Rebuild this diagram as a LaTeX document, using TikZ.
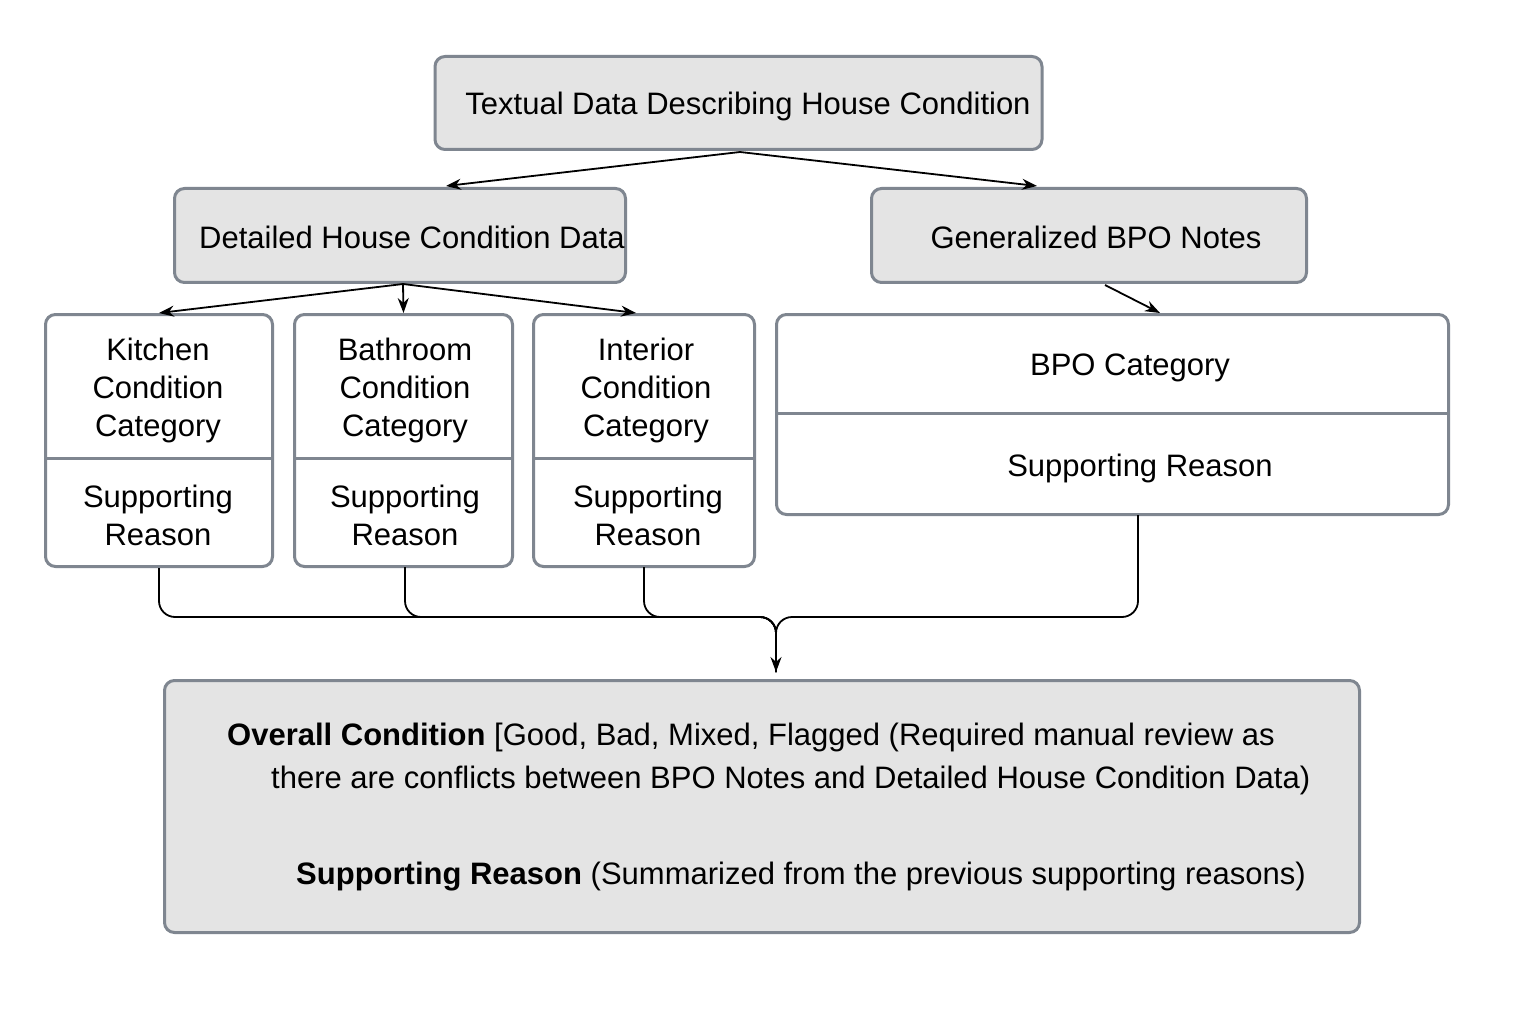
\documentclass[tikz,border=0pt]{standalone}
\usepackage{fontspec}
\setmainfont{Liberation Sans}
\usetikzlibrary{arrows.meta,calc}
\definecolor{bordc}{HTML}{7F8690}
\definecolor{boxg}{HTML}{E4E4E4}
\begin{document}
\begin{tikzpicture}[x=1pt,y=-1pt]
\tikzset{
  gbox/.style={draw=bordc, line width=3pt, fill=boxg, rounded corners=10pt, inner sep=0pt},
  wbox/.style={draw=bordc, line width=3pt, fill=white, rounded corners=10pt, inner sep=0pt},
  lbl/.style={font=\fontsize{31}{38}\selectfont, text=black, align=center, inner sep=0pt},
  divl/.style={draw=bordc, line width=3pt},
  arr/.style={-{Stealth[length=15pt,width=11pt]}, line width=1.8pt, draw=black},
  conn/.style={line width=1.8pt, draw=black, rounded corners=16pt}
}
\useasboundingbox (0,0) rectangle (1536,1024);
\fill[white] (0,0) rectangle (1536,1024);

% top level
\node[gbox, minimum width=607pt, minimum height=93pt] (top) at (738.5,103) {};
\node[lbl] (toptxt) at (748,106) {Textual Data Describing House Condition};

% second level
\node[gbox, minimum width=451pt, minimum height=94pt] (det) at (400,235.5) {};
\node[lbl] (dettxt) at (412,237) {Detailed House Condition Data};
\node[gbox, minimum width=435pt, minimum height=94pt] (gen) at (1089,235.5) {};
\node[lbl] (gentxt) at (1096,237) {Generalized BPO Notes};

% category boxes
\node[wbox, minimum width=227pt, minimum height=252pt] (kit) at (159,440.5) {};
\draw[divl] (kit.west |- 0,458) -- (kit.east |- 0,458);
\node[lbl] (kitc) at (158,390) {Kitchen\\Condition\\Category};
\node[lbl] (kits) at (158,515) {Supporting\\Reason};

\node[wbox, minimum width=218pt, minimum height=252pt] (bat) at (403.5,440.5) {};
\draw[divl] (bat.west |- 0,458) -- (bat.east |- 0,458);
\node[lbl] (batc) at (405,390) {Bathroom\\Condition\\Category};
\node[lbl] (bats) at (405,515) {Supporting\\Reason};

\node[wbox, minimum width=221pt, minimum height=252pt] (int) at (644,440.5) {};
\draw[divl] (int.west |- 0,458) -- (int.east |- 0,458);
\node[lbl] (intc) at (646,390) {Interior\\Condition\\Category};
\node[lbl] (ints) at (648,515) {Supporting\\Reason};

\node[wbox, minimum width=672pt, minimum height=200pt] (bpo) at (1112.5,414.5) {};
\draw[divl] (bpo.west |- 0,413) -- (bpo.east |- 0,413);
\node[lbl] (bpoc) at (1130,368) {BPO Category};
\node[lbl] (bpos) at (1140,468) {Supporting Reason};

% final box
\node[gbox, minimum width=1195pt, minimum height=252pt] (fin) at (762,806.5) {};
\node[lbl, anchor=west] (fin1) at (227,737) {\textbf{Overall Condition} [Good, Bad, Mixed, Flagged (Required manual review as};
\node[lbl, anchor=west] (fin2) at (271,780) {there are conflicts between BPO Notes and Detailed House Condition Data)};
\node[lbl, anchor=west] (fin3) at (296,877) {\textbf{Supporting Reason} (Summarized from the previous supporting reasons)};

% arrows from top
\coordinate (tb) at (740,152);
\draw[arr] (tb) -- (446,186);
\draw[arr] (tb) -- (1037,186);
% arrows from detailed
\coordinate (db) at (403,284);
\draw[arr] (db) -- (kit.north);
\draw[arr] (db) -- (bat.north);
\draw[arr] (db) -- (636,313);
% generalized to bpo
\draw[arr] (1105,285) -- (1160,313);

% merge connectors
\coordinate (m) at (776,617);
\coordinate (mend) at (776,672);
\draw[conn] (kit.south) |- (m) -- (mend);
\draw[conn] (405,567) |- (m) -- (mend);
\draw[conn] (644,567) |- (m) -- (mend);
\draw[conn] (1138,515) |- (m) -- (mend);
\draw[arr] (776,640) -- (mend);
\end{tikzpicture}
\end{document}
